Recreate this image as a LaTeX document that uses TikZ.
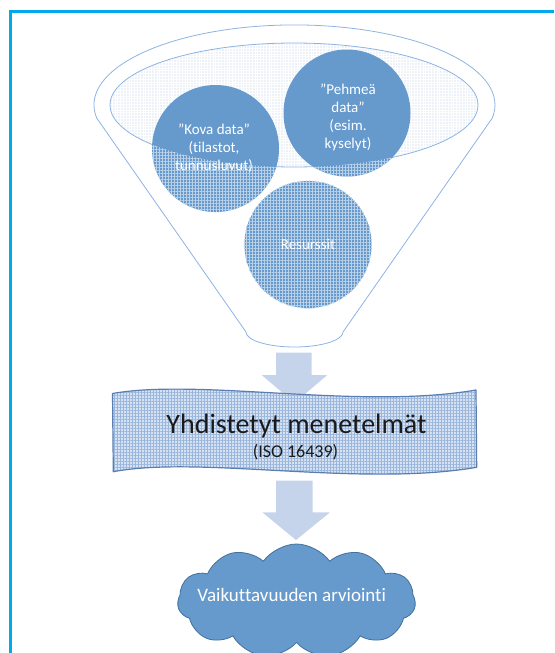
\documentclass[tikz,border=0pt]{standalone}
\usepackage{fontspec}
\setmainfont{Carlito}[Ligatures=NoCommon]
\usetikzlibrary{shapes.symbols,patterns.meta}
\definecolor{framecol}{HTML}{00A8EC}
\definecolor{funnelcol}{HTML}{8DB3E2}
\definecolor{ballblue}{HTML}{6699CC}
\definecolor{arrowblue}{HTML}{C5D4EA}
\definecolor{bannerline}{HTML}{5A7EB0}
\definecolor{bannerfill}{HTML}{D6E2F2}
\definecolor{bannergrid}{HTML}{9AB6DD}
\definecolor{glassfill}{HTML}{EDF2F9}
\definecolor{cloudline}{HTML}{41719C}
\definecolor{textdark}{HTML}{1A1A1A}
\tikzset{
  ball/.style={circle, fill=ballblue, minimum size=127pt, inner sep=0pt},
  balltext/.style={text=white, align=center, font=\fontsize{15}{18}\selectfont},
  blockarrow/.style={fill=arrowblue, draw=none},
  glassline/.style={draw=funnelcol, line width=0.8pt},
  whitegrid/.style={pattern={Hatch[distance=2.8pt, line width=0.5pt]}, pattern color=white},
  ballgrid/.style={pattern={Hatch[distance=3pt, line width=0.6pt]}, pattern color=white!55!ballblue},
}
\begin{document}
\begin{tikzpicture}[x=1pt,y=-1pt]
\useasboundingbox (0,0) rectangle (554,653);
% frame
\draw[framecol, line width=2.6pt] (10.3,653) -- (10.3,11.3) -- (554,11.3);
% outer funnel
\draw[glassline] (96.7,118) arc[start angle=189.4, end angle=-9.4, x radius=200.5pt, y radius=80pt]
  -- (343,332) arc[start angle=0, end angle=-180, x radius=48.5pt, y radius=15pt] -- cycle;
% inner glass ellipse
\path[fill=glassfill] (294,105) ellipse[x radius=184pt, y radius=62pt];
\path[whitegrid] (294,105) ellipse[x radius=184pt, y radius=62pt];
\draw[glassline] (294,105) ellipse[x radius=184pt, y radius=62pt];
% balls
\node[ball] (kova) at (215.5,148.5) {};
\node[ball] (pehmea) at (347,113) {};
\node[ball] (resurssit) at (308,244.5) {};
% glass texture over balls outside the ellipse
\begin{scope}
  \clip (215.5,148.5) circle[radius=63.6pt];
  \path[ballgrid, even odd rule] (100,0) rectangle (500,360) (294,105) ellipse[x radius=184pt, y radius=62pt];
\end{scope}
\begin{scope}
  \clip (347,113) circle[radius=63.6pt];
  \path[ballgrid, even odd rule] (100,0) rectangle (500,360) (294,105) ellipse[x radius=184pt, y radius=62pt];
\end{scope}
\begin{scope}
  \clip (308,244.5) circle[radius=64.1pt];
  \path[ballgrid] (200,150) rectangle (420,340);
\end{scope}
\node[balltext] (kovatext) at (214,148.5) {”Kova data”\\(tilastot,\\tunnusluvut)};
\node[balltext] (pehmeatext) at (348,117.5) {”Pehmeä\\data”\\(esim.\\kyselyt)};
\node[balltext] (resurssittext) at (308,244.5) {Resurssit};
% arrows
\fill[blockarrow] (276,352.7) -- (311.5,352.7) -- (311.5,375) -- (327.3,375) -- (294.5,403) -- (261.7,375) -- (276,375) -- cycle;
\fill[blockarrow] (276,480.7) -- (312.5,480.7) -- (312.5,512.3) -- (330,512.3) -- (296,540) -- (262.3,512.3) -- (276,512.3) -- cycle;
% banner (wave)
\path[fill=bannerfill] (112.5,393.5) .. controls (200,378) and (360,410) .. (476,390) -- (476.7,467.3) .. controls (360,487.3) and (200,455.3) .. (113.3,471.7) -- cycle;
\path[pattern={Hatch[distance=3pt, line width=0.8pt]}, pattern color=bannergrid] (112.5,393.5) .. controls (200,378) and (360,410) .. (476,390) -- (476.7,467.3) .. controls (360,487.3) and (200,455.3) .. (113.3,471.7) -- cycle;
\draw[bannerline, line width=1.2pt, line join=round] (112.5,393.5) .. controls (200,378) and (360,410) .. (476,390) -- (476.7,467.3) .. controls (360,487.3) and (200,455.3) .. (113.3,471.7) -- cycle;
\node[anchor=base, text=textdark, font=\fontsize{28}{30}\selectfont, inner sep=0pt] (banner) at (296.5,433.3) {Yhdistetyt menetelmät};
\node[anchor=base, text=textdark, font=\fontsize{18}{20}\selectfont, inner sep=0pt] (bannersub) at (295.5,457.3) {(ISO 16439)};
% cloud
\node[cloud, cloud puffs=11, cloud puff arc=110, aspect=2.1, minimum width=238pt, minimum height=114pt, inner sep=0pt, fill=ballblue, draw=cloudline, line width=0.8pt] (cloud) at (296.5,601) {};
\node[anchor=base, text=white, font=\fontsize{19}{22}\selectfont, inner sep=0pt] (cloudtext) at (291.7,601.7) {Vaikuttavuuden arviointi};
\end{tikzpicture}
\end{document}
